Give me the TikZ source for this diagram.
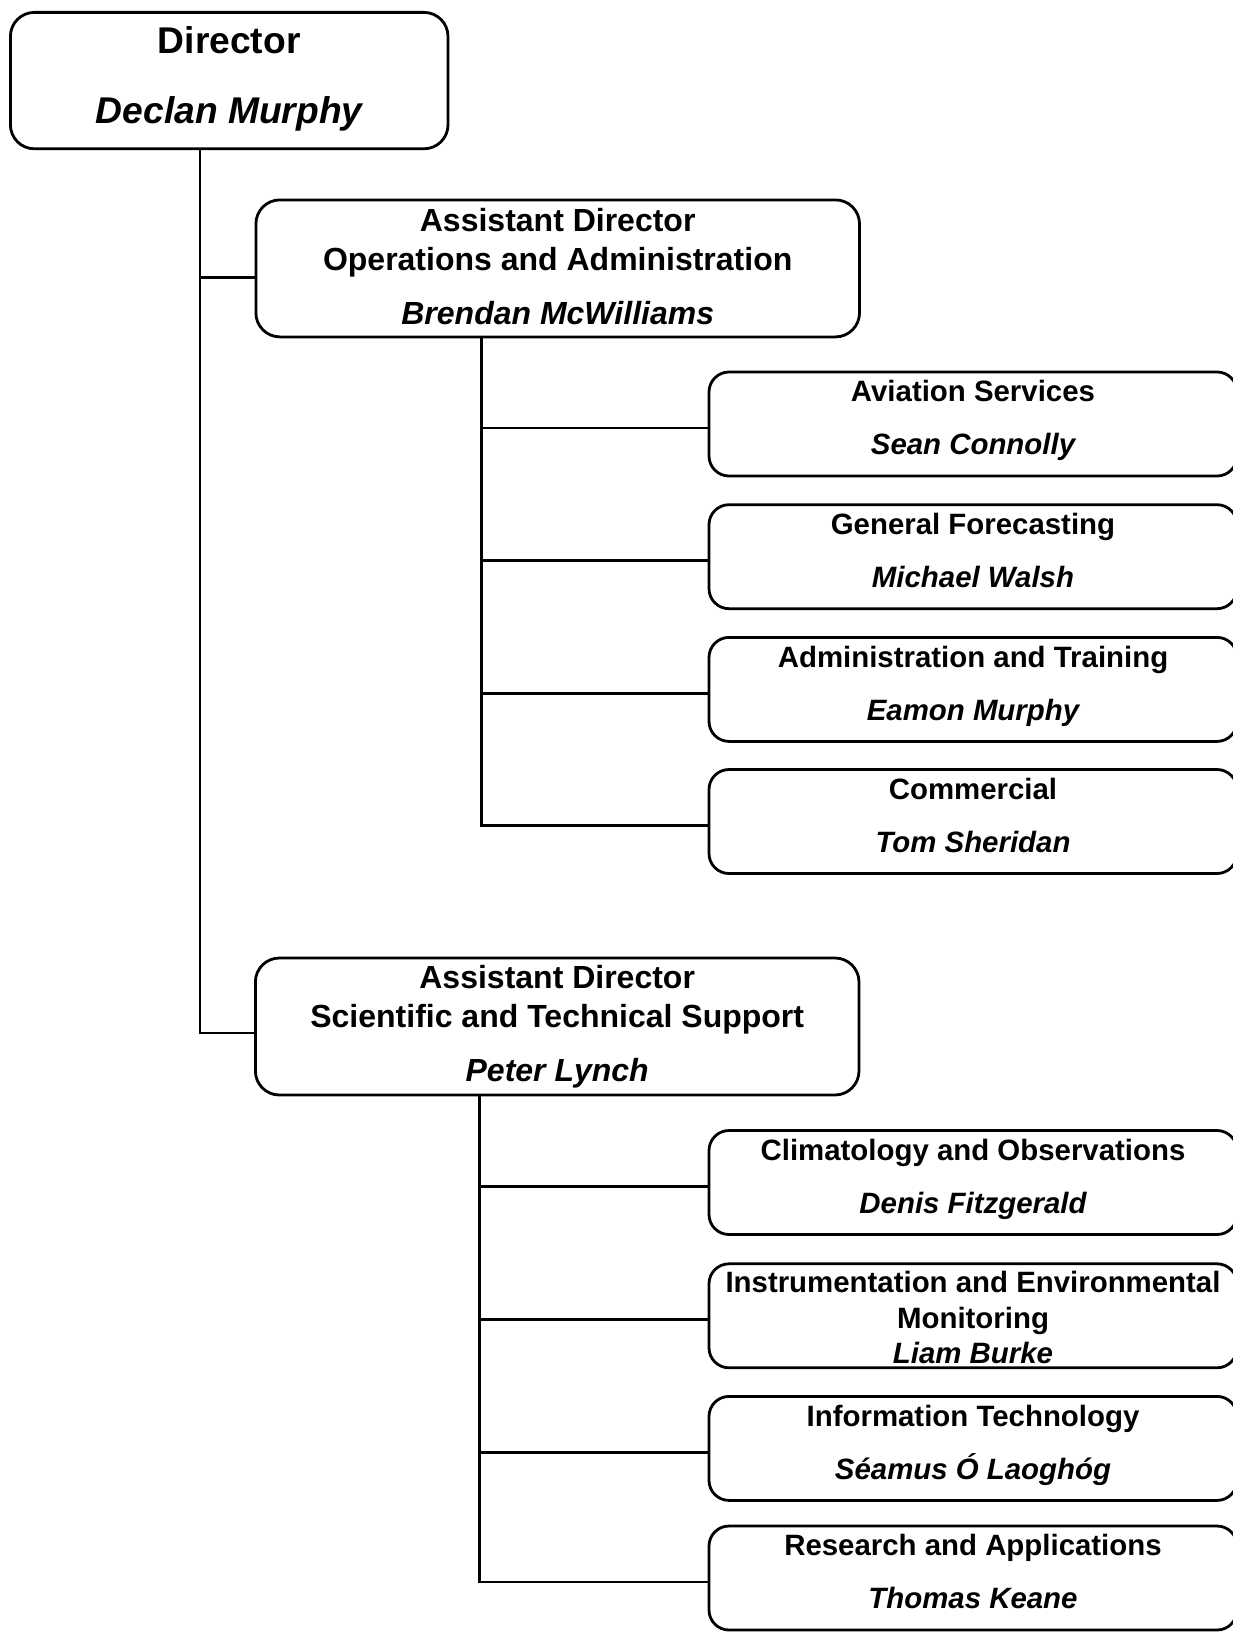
\documentclass[tikz,border=0pt]{standalone}
\usepackage{fontspec}
\setmainfont{Liberation Sans}
\usetikzlibrary{positioning,calc}

\tikzset{
  unit/.style={draw,line width=1.4pt,rounded corners=12pt,inner sep=0pt},
  topbox/.style={unit,minimum width=218.8pt,minimum height=68.2pt},
  adbox/.style={unit,minimum width=301.8pt,minimum height=68.5pt},
  subbox/.style={unit,rounded corners=10pt,minimum width=264pt,minimum height=52pt},
  txt/.style={inner sep=0pt,text depth=0pt},
  bigtxt/.style={txt,text height=13.4pt,font=\fontsize{18.6}{22}\selectfont\bfseries},
  bigname/.style={txt,text height=13.4pt,font=\fontsize{18.6}{22}\selectfont\bfseries\itshape},
  adtxt/.style={txt,text height=11.5pt,font=\fontsize{16}{19}\selectfont\bfseries},
  adname/.style={txt,text height=11.5pt,font=\fontsize{16}{19}\selectfont\bfseries\itshape},
  subtxt/.style={txt,text height=10.6pt,font=\fontsize{14.7}{17}\selectfont\bfseries},
  subname/.style={txt,text height=10.6pt,font=\fontsize{14.7}{17}\selectfont\bfseries\itshape},
  wire/.style={line width=1.4pt}
}

\begin{document}
\begin{tikzpicture}[x=0.5pt,y=-0.5pt]
    \useasboundingbox (0,0) rectangle (1232,1632);

    % director
    \node[topbox] (dir) at (229.2,80.6) {};
    \node[bigtxt] (dir-t) at ($(dir.north)+(0,29.1)$) {Director};
    \node[bigname] (dir-n) at ($(dir.north)+(0,98.8)$) {Declan Murphy};

    % assistant directors
    \node[adbox] (ops) at (557.7,268.4) {};
    \node[adtxt] (ops-t) at ($(ops.north)+(0,21.8)$) {Assistant Director};
    \node[adtxt] (ops-s) at ($(ops.north)+(0,60.2)$) {Operations and Administration};
    \node[adname] (ops-n) at ($(ops.north)+(0,114.4)$) {Brendan McWilliams};

    \node[adbox] (sci) at (557.2,1026.5) {};
    \node[adtxt] (sci-t) at ($(sci.north)+(0,20.8)$) {Assistant Director};
    \node[adtxt] (sci-s) at ($(sci.north)+(0,59.3)$) {Scientific and Technical Support};
    \node[adname] (sci-n) at ($(sci.north)+(0,113.4)$) {Peter Lynch};

    % sections
    \foreach \nm/\cy/\ttl/\who in {av/424/Aviation Services/Sean Connolly,
        gf/556.7/General Forecasting/Michael Walsh,
        at/689.4/Administration and Training/Eamon Murphy,
        cm/821.5/Commercial/Tom Sheridan,
        cl/1182.5/Climatology and Observations/Denis Fitzgerald,
        it/1448.4/Information Technology/Séamus Ó Laoghóg,
        ra/1578/Research and Applications/Thomas Keane}
    {
      \node[subbox] (\nm) at (973,\cy) {};
      \node[subtxt] (\nm-t) at ($(\nm.center)+(0,-33)$) {\ttl};
      \node[subname] (\nm-n) at ($(\nm.center)+(0,20)$) {\who};
      \coordinate (\nm-in) at ($(\nm.west)+(0,4)$);
    }
    \node[subbox] (im) at (973,1315.8) {};
    \node[subtxt] (im-t) at ($(im.center)+(0,-33.5)$) {Instrumentation and Environmental};
    \node[subtxt] (im-s) at ($(im.center)+(0,1.9)$) {Monitoring};
    \node[subname] (im-n) at ($(im.center)+(0,37.3)$) {Liam Burke};
    \coordinate (im-in) at ($(im.west)+(0,4)$);

    % lines
    \coordinate (dirfoot) at (200,148.8);
    \coordinate (j1) at (200,277.8);
    \coordinate (j2) at (200,1033);
    \draw[wire] (dirfoot) -- (j2) -- (j2 -| sci.west);
    \draw[wire] (j1) -- (j1 -| ops.west);

    \coordinate (opsfoot) at (481.7,337);
    \draw[wire] (opsfoot) |- (cm-in);
    \foreach \nm in {av,gf,at}
      \draw[wire] (opsfoot |- \nm-in) -- (\nm-in);

    \coordinate (scifoot) at (479.7,1094.6);
    \draw[wire] (scifoot) |- (ra-in);
    \foreach \nm in {cl,im,it}
      \draw[wire] (scifoot |- \nm-in) -- (\nm-in);
\end{tikzpicture}
\end{document}
